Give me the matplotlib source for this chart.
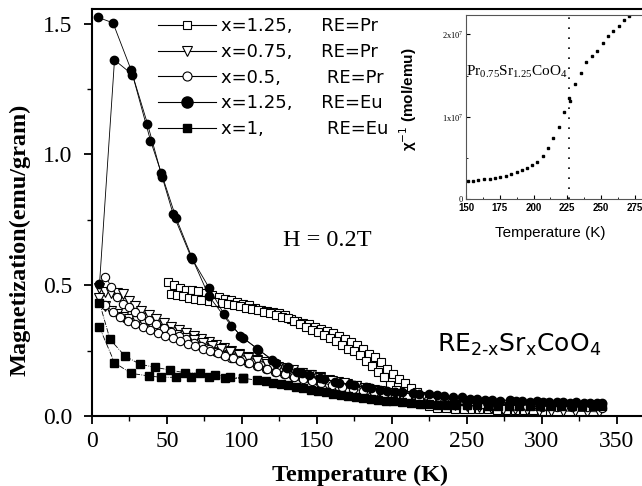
import numpy as np
import matplotlib
matplotlib.use("Agg")
from matplotlib import pyplot as plt
from matplotlib.lines import Line2D
from matplotlib.ticker import MultipleLocator, FormatStrFormatter

plt.rcParams.update({
    "font.family": "Liberation Serif",
    "mathtext.fontset": "custom",
    "mathtext.rm": "Liberation Serif",
    "mathtext.sf": "DejaVu Sans",
    "axes.linewidth": 1.5,
})

# ---- main panel data (T in K, M in emu/gram), two branches per sample ----
pr125_t1 = [51, 55, 59, 63, 67, 71, 76, 80, 85, 89, 93, 97, 101, 105, 109, 113, 117, 121, 125, 129,
            133, 137, 141, 145, 149, 153, 157, 161, 165, 169, 173, 177, 181, 185, 189, 193, 197, 201,
            205, 209, 213, 217, 221, 225, 230, 235, 240, 246, 252, 258, 264, 270, 276, 282, 288, 294, 300]
pr125_m1 = [0.513, 0.500, 0.490, 0.483, 0.480, 0.478, 0.470, 0.462, 0.455, 0.449, 0.442, 0.436, 0.430,
            0.423, 0.413, 0.405, 0.400, 0.397, 0.392, 0.386, 0.372, 0.363, 0.357, 0.350, 0.342, 0.333,
            0.325, 0.316, 0.305, 0.294, 0.284, 0.271, 0.255, 0.237, 0.224, 0.205, 0.180, 0.160, 0.143,
            0.125, 0.106, 0.091, 0.075, 0.060, 0.045, 0.037, 0.032, 0.029, 0.027, 0.026, 0.025, 0.024,
            0.023, 0.023, 0.022, 0.022, 0.021]
pr125_t2 = [53, 57, 61, 65, 69, 73, 78, 82, 87, 91, 95, 99, 103, 107, 111, 115, 119, 123, 127, 131,
            135, 139, 143, 147, 151, 155, 159, 163, 167, 171, 175, 179, 183, 187, 191, 195, 199, 203,
            207, 211, 215, 220, 225, 230, 236, 242, 248]
pr125_m2 = [0.468, 0.462, 0.458, 0.452, 0.448, 0.445, 0.440, 0.437, 0.432, 0.428, 0.424, 0.419, 0.414,
            0.409, 0.404, 0.399, 0.392, 0.386, 0.380, 0.373, 0.362, 0.350, 0.340, 0.330, 0.320, 0.308,
            0.298, 0.285, 0.271, 0.258, 0.247, 0.235, 0.212, 0.190, 0.169, 0.148, 0.120, 0.100, 0.085,
            0.070, 0.058, 0.046, 0.038, 0.032, 0.029, 0.027, 0.026]

pr075_t1 = [5, 9, 13, 17, 21, 25, 29, 33, 38, 43, 48, 53, 58, 63, 68, 73, 78, 83, 88, 93, 98, 104, 110,
            116, 122, 128, 134, 140, 146, 152, 158, 164, 170, 176, 182, 188, 194, 200, 207, 214, 221, 228,
            235, 242, 250, 258, 266, 274, 282, 290, 298, 306, 314, 322, 330, 338]
pr075_m1 = [0.490, 0.475, 0.470, 0.470, 0.468, 0.440, 0.420, 0.400, 0.385, 0.370, 0.355, 0.342, 0.330,
            0.318, 0.305, 0.293, 0.282, 0.271, 0.260, 0.249, 0.238, 0.226, 0.215, 0.205, 0.195, 0.185,
            0.175, 0.166, 0.157, 0.148, 0.139, 0.131, 0.122, 0.115, 0.108, 0.100, 0.093, 0.086, 0.078,
            0.070, 0.062, 0.055, 0.048, 0.042, 0.037, 0.033, 0.030, 0.027, 0.025, 0.023, 0.021, 0.020,
            0.019, 0.018, 0.017, 0.016]
pr075_t2 = [5, 9, 13, 17, 21, 25, 30, 35, 40, 45, 50, 56, 62, 68, 74, 80, 86, 92, 98, 104, 110, 117,
            124, 131, 138, 145, 152, 160, 168, 176, 184, 192, 200, 210, 220, 230, 240, 250]
pr075_m2 = [0.450, 0.420, 0.400, 0.390, 0.380, 0.372, 0.362, 0.352, 0.342, 0.332, 0.322, 0.311, 0.300,
            0.289, 0.278, 0.267, 0.256, 0.245, 0.234, 0.223, 0.212, 0.200, 0.188, 0.176, 0.165, 0.155,
            0.145, 0.135, 0.125, 0.115, 0.105, 0.096, 0.087, 0.077, 0.067, 0.058, 0.050, 0.043]

pr05_t1 = [9, 13, 17, 21, 25, 29, 33, 38, 43, 48, 53, 58, 63, 68, 73, 78, 83, 88, 93, 98, 104, 110,
           116, 122, 128, 134, 140, 146, 152, 158, 164, 170, 176, 182, 188, 194, 200, 208, 216, 224, 232,
           240, 250, 260, 270, 280, 290, 300, 310, 320, 330, 340]
pr05_m1 = [0.532, 0.494, 0.455, 0.430, 0.415, 0.398, 0.383, 0.366, 0.350, 0.335, 0.320, 0.306, 0.293,
           0.280, 0.268, 0.256, 0.245, 0.234, 0.223, 0.213, 0.201, 0.190, 0.180, 0.170, 0.161, 0.152,
           0.144, 0.136, 0.128, 0.121, 0.114, 0.107, 0.101, 0.095, 0.089, 0.084, 0.079, 0.073, 0.067,
           0.062, 0.057, 0.053, 0.049, 0.045, 0.042, 0.040, 0.038, 0.036, 0.035, 0.034, 0.033, 0.032]
pr05_t2 = [9, 14, 19, 24, 29, 34, 39, 44, 49, 54, 59, 64, 69, 74, 79, 84, 89, 94, 99, 105, 111, 117,
           123, 129, 135, 141, 147, 153, 160, 167, 174, 181, 188, 195, 202, 210, 218, 226, 235]
pr05_m2 = [0.424, 0.398, 0.380, 0.365, 0.352, 0.340, 0.329, 0.318, 0.307, 0.297, 0.287, 0.277, 0.267,
           0.257, 0.248, 0.239, 0.230, 0.221, 0.212, 0.201, 0.190, 0.180, 0.170, 0.160, 0.151, 0.142,
           0.134, 0.126, 0.118, 0.110, 0.103, 0.096, 0.090, 0.084, 0.078, 0.072, 0.066, 0.060, 0.055]

eu125_t1 = [4, 14, 26, 37, 46, 54, 66, 78, 88, 99, 110, 120, 131, 140, 152, 162, 172, 183, 192, 202,
            214, 225, 235, 247, 257, 267, 279, 287, 297, 305, 314, 323, 332, 340]
eu125_m1 = [1.524, 1.503, 1.324, 1.117, 0.929, 0.774, 0.608, 0.491, 0.389, 0.305, 0.258, 0.216, 0.188,
            0.163, 0.144, 0.131, 0.122, 0.110, 0.099, 0.093, 0.087, 0.083, 0.076, 0.074, 0.066, 0.063,
            0.060, 0.058, 0.056, 0.055, 0.053, 0.052, 0.051, 0.050]
eu125_t2 = [5, 15, 27, 39, 47, 56, 67, 78, 93, 101, 111, 123, 130, 137, 145, 155, 165, 175, 186, 197,
            207, 218, 230, 241, 252, 262, 272, 283, 292, 301, 310, 319, 328, 337]
eu125_m2 = [0.504, 1.361, 1.305, 1.053, 0.915, 0.758, 0.600, 0.458, 0.344, 0.298, 0.254, 0.201, 0.184,
            0.170, 0.155, 0.140, 0.128, 0.118, 0.106, 0.096, 0.090, 0.085, 0.079, 0.072, 0.066, 0.062,
            0.059, 0.057, 0.055, 0.054, 0.052, 0.051, 0.050, 0.049]

eu1_t1 = [5, 12, 22, 32, 42, 52, 62, 72, 82, 92, 101, 110, 116, 121, 126, 131, 136, 141, 146, 151, 156,
          161, 166, 171, 176, 181, 186, 191, 196, 201, 207, 213, 219, 225, 231, 237, 243, 250, 257, 264,
          271, 278, 285, 292, 299, 306, 313, 320, 327, 334, 340]
eu1_m1 = [0.433, 0.293, 0.229, 0.198, 0.186, 0.176, 0.165, 0.163, 0.156, 0.150, 0.144, 0.137, 0.132,
          0.127, 0.123, 0.118, 0.112, 0.106, 0.100, 0.095, 0.090, 0.085, 0.080, 0.075, 0.071, 0.068,
          0.065, 0.062, 0.059, 0.056, 0.053, 0.049, 0.047, 0.045, 0.043, 0.042, 0.041, 0.041, 0.041,
          0.040, 0.040, 0.040, 0.040, 0.040, 0.040, 0.039, 0.039, 0.039, 0.039, 0.039, 0.039]
eu1_t2 = [5, 15, 26, 38, 46, 56, 66, 78, 89, 101]
eu1_m2 = [0.339, 0.204, 0.163, 0.153, 0.148, 0.148, 0.148, 0.150, 0.144, 0.144]

x_labels = ["x=1.25,", "x=0.75,", "x=0.5,", "x=1.25,", "x=1,"]
re_labels = ["RE=Pr", "RE=Pr", "RE=Pr", "RE=Eu", "RE=Eu"]
gaps = [5, 5, 8, 5, 11]  # spaces that line up the RE column

# ---- inset data: inverse susceptibility of Pr0.75Sr1.25CoO4 ----
ins_t = [151.7, 155.4, 159.1, 163.3, 167.7, 171.5, 175.2, 179.6, 183.1, 187.5, 191.2, 195.0, 199.2,
         202.9, 207.4, 211.1, 214.8, 219.2, 222.9, 226.6, 226.8, 230.9, 235.1, 239.0, 243.3, 247.0,
         251.3, 254.9, 258.9, 263.1, 267.3, 270.7]
ins_chi = [0.219e7, 0.222e7, 0.230e7, 0.239e7, 0.243e7, 0.251e7, 0.271e7, 0.283e7, 0.300e7, 0.324e7,
           0.352e7, 0.380e7, 0.413e7, 0.453e7, 0.526e7, 0.616e7, 0.737e7, 0.879e7, 1.061e7, 1.224e7,
           1.19e7, 1.397e7, 1.527e7, 1.668e7, 1.741e7, 1.802e7, 1.892e7, 1.984e7, 2.045e7, 2.106e7,
           2.175e7, 2.227e7]
t_transition = 226.5

W, H = 642, 486
fig = plt.figure(figsize=(W / 100, H / 100), dpi=100)
ax = fig.add_axes([92 / W, 70 / H, 550 / W, 407 / H])

lw = 0.6
kw_sq = dict(marker="s", ms=6, mfc="white", mec="black", mew=0.8, color="black", lw=lw)
kw_tri = dict(marker="v", ms=7.5, mfc="white", mec="black", mew=0.8, color="black", lw=lw)
kw_ci = dict(marker="o", ms=6, mfc="white", mec="black", mew=0.8, color="black", lw=lw)
kw_fci = dict(marker="o", ms=6, mfc="black", mec="black", color="black", lw=lw)
kw_fsq = dict(marker="s", ms=5.2, mfc="black", mec="black", color="black", lw=lw, ls="-.")

ax.plot(pr125_t1, pr125_m1, **kw_sq)
ax.plot(pr125_t2, pr125_m2, **kw_sq)
ax.plot(pr075_t1, pr075_m1, **kw_tri)
ax.plot(pr075_t2, pr075_m2, **kw_tri)
ax.plot(pr05_t1, pr05_m1, **kw_ci)
ax.plot(pr05_t2, pr05_m2, **kw_ci)
ax.plot(eu1_t1, eu1_m1, **kw_fsq)
ax.plot(eu1_t2, eu1_m2, **kw_fsq)
ax.plot(eu125_t1, eu125_m1, **kw_fci)
ax.plot(eu125_t2, eu125_m2, **kw_fci)

ax.set_xlim(0, 366.7)
ax.set_ylim(0, 1.556)
ax.spines["right"].set_visible(False)
ax.xaxis.set_major_locator(MultipleLocator(50))
ax.xaxis.set_minor_locator(MultipleLocator(25))
ax.yaxis.set_major_locator(MultipleLocator(0.5))
ax.yaxis.set_minor_locator(MultipleLocator(0.25))
ax.yaxis.set_major_formatter(FormatStrFormatter("%.1f"))
ax.tick_params(which="major", direction="out", length=6, width=1.3, labelsize=17)
ax.tick_params(which="minor", direction="out", length=3.5, width=1.0)
ax.tick_params(axis="x", pad=5)
ax.tick_params(axis="y", pad=8)
ax.tick_params(right=False, top=False)

ax.set_xlabel("Temperature (K)", fontsize=17.5, fontweight="bold", va="center")
ax.set_ylabel("Magnetization(emu/gram)", fontsize=17.5, fontweight="bold", va="center")
ax.xaxis.set_label_coords(0.487, -0.147)
ax.yaxis.set_label_coords(-0.131, 0.432)

handles = [
    Line2D([], [], marker="s", ms=5.5, mfc="white", mec="black", mew=0.8, color="black", lw=0.8),
    Line2D([], [], marker="v", ms=7.5, mfc="white", mec="black", mew=0.8, color="black", lw=0.8),
    Line2D([], [], marker="o", ms=6.5, mfc="white", mec="black", mew=0.8, color="black", lw=0.8),
    Line2D([], [], marker="o", ms=8, mfc="black", mec="black", color="black", lw=0.8),
    Line2D([], [], marker="s", ms=6, mfc="black", mec="black", color="black", lw=0.8),
]
labels = [xl + " " * g + rl for xl, g, rl in zip(x_labels, gaps, re_labels)]
ax.legend(handles, labels, loc="upper left", bbox_to_anchor=(0.12, 0.98), frameon=False,
          prop={"family": "DejaVu Sans", "size": 13}, handlelength=3.2, handletextpad=0.3,
          labelspacing=0.43, borderpad=0, borderaxespad=0)

ax.text(127.3, 0.672, "H = 0.2T", fontsize=17.5, ha="left", va="center")
ax.text(230, 0.27, r"$\mathsf{RE_{2‐x}Sr_xCoO_4}$", fontsize=18, ha="left", va="center")

# ---- inset ----
ins = fig.add_axes([466 / W, (H - 199) / H, 180 / W, 184 / H])
ins.plot(ins_t, ins_chi, ls="none", marker="s", ms=2, color="black")
ins.axvline(t_transition, color="black", lw=1.2, ls=(0, (1, 5)))
ins.set_xlim(150, 150 + 180 / 1.35)
ins.set_ylim(0, 2.236e7)
for s in ins.spines.values():
    s.set_linewidth(0.8)
    s.set_color("#555555")
ins.spines["right"].set_visible(False)
ins.xaxis.set_major_locator(MultipleLocator(25))
ins.xaxis.set_minor_locator(MultipleLocator(12.5))
ins.set_yticks([0, 1e7, 2e7])
ins.set_yticklabels(["0", r"1x10$^{7}$", r"2x10$^{7}$"], fontsize=6)
ins.yaxis.set_minor_locator(MultipleLocator(0.5e7))
ins.tick_params(which="major", direction="in", length=3, width=0.8, pad=2)
ins.tick_params(axis="x", pad=3)
ins.tick_params(which="minor", direction="in", length=1.5, width=0.6)
ins.tick_params(right=False, top=False)
for lab in ins.get_xticklabels():
    lab.set_family("Liberation Sans")
    lab.set_fontweight("bold")
    lab.set_fontsize(7)
ins.set_xlabel("Temperature (K)", family="Liberation Sans", fontsize=11, va="center")
ins.xaxis.set_label_coords(0.466, -0.185)
ins.set_ylabel(r"χ$^{\mathsf{-1}}$ (mol/emu)", family="Liberation Sans", fontweight="bold",
               fontsize=11, va="center")
ins.yaxis.set_label_coords(-0.324, 0.54)
ins.text(150.3, 1.55e7, r"$\mathrm{Pr_{0.75}Sr_{1.25}CoO_4}$", fontsize=11, ha="left", va="center")

fig.savefig("out.png", dpi=100)
